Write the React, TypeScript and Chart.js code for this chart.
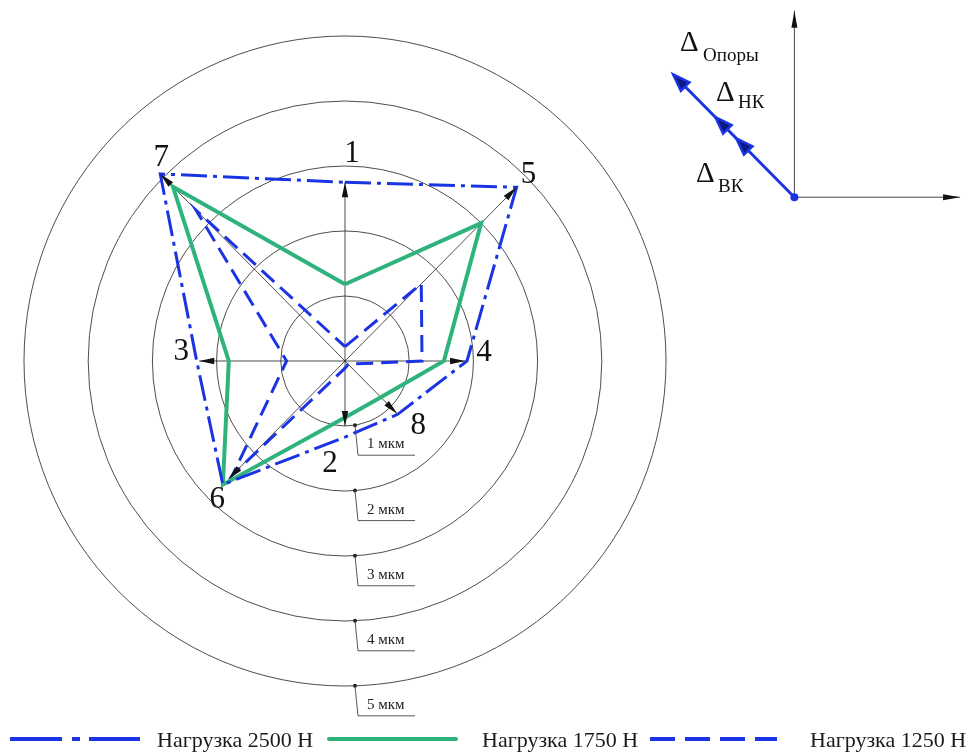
import React, { useEffect, useRef } from 'react';
import { Chart, registerables } from 'chart.js';

Chart.register(...registerables);

// Measurement directions, clockwise from the top
const directions = ['1', '5', '4', '8', '2', '6', '3', '7'];

// Radial deviation, мкм, in the same direction order
const load2500 = [2.75, 3.78, 1.9, 1.16, 1.17, 2.69, 2.31, 4.07];
const load1750 = [1.18, 3.0, 1.54, 0.79, 0.87, 2.69, 1.81, 3.79];
const load1250 = [0.22, 1.68, 1.2, 0.07, 0.11, 2.47, 0.91, 3.28];

// Length of the numbered direction arrows, мкм
const axisArrows = [2.75, 3.78, 1.87, 1.15, 1.0, 2.57, 2.27, 4.07];

// Reference rings
const ringValues = [1, 2, 3, 4, 5];
const ringLabels = ['1 мкм', '2 мкм', '3 мкм', '4 мкм', '5 мкм'];

const seriesNames = ['Нагрузка 2500 Н', 'Нагрузка 1750 Н', 'Нагрузка 1250 Н'];

// Vector diagram in the corner: components along one direction
const vectorNames = ['ВК', 'НК', 'Опоры'];
const vectorLengths = [1.28, 1.74, 2.67];

// Canvas geometry
const W = 975;
const H = 756;
const CX = 345;
const CY = 361;
const UX = 64.2;
const UY = 65;

const BLUE = '#1b34e3';
const GREEN = '#2fb37c';
const SERIF = '"Liberation Serif", "Times New Roman", serif';

const polar = (v: number, i: number) => {
  const a = (i * Math.PI) / 4;
  return { x: v * Math.sin(a), y: v * Math.cos(a) };
};

const closedPolygon = (vals: number[]) => {
  const pts = vals.map((v, i) => polar(v, i));
  return [...pts, pts[0]];
};

function arrowHead(
  ctx: CanvasRenderingContext2D,
  x1: number, y1: number, x2: number, y2: number,
  len: number, half: number
) {
  const a = Math.atan2(y2 - y1, x2 - x1);
  const bx = x2 - len * Math.cos(a);
  const by = y2 - len * Math.sin(a);
  ctx.beginPath();
  ctx.moveTo(x2, y2);
  ctx.lineTo(bx + half * Math.sin(a), by - half * Math.cos(a));
  ctx.lineTo(bx - half * Math.sin(a), by + half * Math.cos(a));
  ctx.closePath();
}

// Offsets of the direction numbers from their arrow tips
const labelOffsets: [number, number][] = [
  [7, -29], [12, -13], [19, -9], [21, 11], [-15, 37], [-11, 20], [-18, -10], [1, -17],
];

const diagramPlugin = {
  id: 'deviationDiagram',
  beforeDatasetsDraw(chart: any) {
    const { ctx } = chart;
    const sx = chart.scales.x;
    const sy = chart.scales.y;
    const px = (v: number) => sx.getPixelForValue(v);
    const py = (v: number) => sy.getPixelForValue(v);
    const ox = px(0);
    const oy = py(0);

    ctx.save();
    // rings
    ctx.strokeStyle = '#3a3a3a';
    ctx.lineWidth = 0.9;
    ringValues.forEach((r) => {
      ctx.beginPath();
      ctx.ellipse(ox, oy, px(r) - ox, oy - py(r), 0, 0, Math.PI * 2);
      ctx.stroke();
    });

    // direction axes: thin lines from the centre
    ctx.strokeStyle = '#222';
    ctx.lineWidth = 0.8;
    axisArrows.forEach((v, i) => {
      const p = polar(v, i);
      ctx.beginPath();
      ctx.moveTo(ox, oy);
      ctx.lineTo(px(p.x), py(p.y));
      ctx.stroke();
    });
    ctx.restore();
  },
  afterDatasetsDraw(chart: any) {
    const { ctx } = chart;
    const sx = chart.scales.x;
    const sy = chart.scales.y;
    const px = (v: number) => sx.getPixelForValue(v);
    const py = (v: number) => sy.getPixelForValue(v);
    const ox = px(0);
    const oy = py(0);

    ctx.save();
    // arrowheads and direction numbers
    ctx.fillStyle = '#111';
    ctx.font = `31px ${SERIF}`;
    ctx.textAlign = 'center';
    ctx.textBaseline = 'middle';
    axisArrows.forEach((v, i) => {
      const p = polar(v, i);
      const tx = px(p.x);
      const ty = py(p.y);
      arrowHead(ctx, ox, oy, tx, ty, 15, 3.2);
      ctx.fill();
      const [dx, dy] = labelOffsets[i];
      ctx.fillText(directions[i], tx + dx, ty + dy + 1);
    });

    // ring value callouts
    ringValues.forEach((r, i) => {
      const vx = 10 / UX;
      const vy = -Math.sqrt(r * r - vx * vx);
      const dx = px(vx);
      const dy = py(vy);
      ctx.fillStyle = '#222';
      ctx.beginPath();
      ctx.arc(dx, dy, 2, 0, Math.PI * 2);
      ctx.fill();
      ctx.strokeStyle = '#444';
      ctx.lineWidth = 0.9;
      ctx.beginPath();
      ctx.moveTo(dx, dy);
      ctx.lineTo(dx + 3, dy + 30);
      ctx.lineTo(dx + 60, dy + 30);
      ctx.stroke();
      ctx.font = `15px ${SERIF}`;
      ctx.textAlign = 'left';
      ctx.textBaseline = 'alphabetic';
      ctx.fillStyle = '#222';
      ctx.fillText(ringLabels[i], dx + 12, dy + 23);
    });

    // corner vector diagram
    const origin = { x: 7.0, y: 2.52 };
    const ix = px(origin.x);
    const iy = py(origin.y);
    ctx.strokeStyle = '#333';
    ctx.fillStyle = '#111';
    ctx.lineWidth = 0.9;
    const topY = py(origin.y + 2.87);
    const rightX = px(origin.x + 2.58);
    ctx.beginPath();
    ctx.moveTo(ix, iy);
    ctx.lineTo(ix, topY);
    ctx.moveTo(ix, iy);
    ctx.lineTo(rightX, iy);
    ctx.stroke();
    arrowHead(ctx, ix, iy, ix, topY, 17, 3);
    ctx.fill();
    arrowHead(ctx, ix, iy, rightX, iy, 17, 3);
    ctx.fill();

    const dir = { x: -Math.SQRT1_2, y: Math.SQRT1_2 };
    const tips = vectorLengths.map((l) => ({
      x: px(origin.x + dir.x * l),
      y: py(origin.y + dir.y * l),
    }));
    const far = tips[tips.length - 1];
    ctx.strokeStyle = BLUE;
    ctx.lineWidth = 3;
    ctx.beginPath();
    ctx.moveTo(ix, iy);
    ctx.lineTo(far.x, far.y);
    ctx.stroke();
    tips.forEach((t) => {
      arrowHead(ctx, ix, iy, t.x, t.y, 17, 6);
      ctx.fillStyle = '#0b1a7a';
      ctx.fill();
      ctx.lineWidth = 2.5;
      ctx.strokeStyle = BLUE;
      ctx.stroke();
    });
    ctx.fillStyle = BLUE;
    ctx.beginPath();
    ctx.arc(ix, iy, 4, 0, Math.PI * 2);
    ctx.fill();

    // Δ labels
    const deltaPos: [number, number, number, number][] = [
      [696, 182, 718, 192],
      [716, 101, 738, 108],
      [680, 51, 703, 61],
    ];
    ctx.fillStyle = '#111';
    ctx.textAlign = 'left';
    ctx.textBaseline = 'alphabetic';
    vectorNames.forEach((name, i) => {
      const [dxp, dyp, sxp, syp] = deltaPos[i];
      ctx.font = `29px ${SERIF}`;
      ctx.fillText('Δ', dxp, dyp);
      ctx.font = `19px ${SERIF}`;
      ctx.fillText(name, sxp, syp);
    });

    // legend
    const ly = 739;
    ctx.lineWidth = 4;
    ctx.strokeStyle = BLUE;
    ctx.lineCap = 'butt';
    ([[10, 62], [72, 80], [89, 140]] as [number, number][]).forEach(([a, b]) => {
      ctx.beginPath();
      ctx.moveTo(a, ly);
      ctx.lineTo(b, ly);
      ctx.stroke();
    });
    ctx.strokeStyle = GREEN;
    ctx.lineCap = 'round';
    ctx.beginPath();
    ctx.moveTo(329, ly);
    ctx.lineTo(456, ly);
    ctx.stroke();
    ctx.strokeStyle = BLUE;
    ctx.lineCap = 'butt';
    ctx.setLineDash([25, 10]);
    ctx.beginPath();
    ctx.moveTo(650, ly);
    ctx.lineTo(777, ly);
    ctx.stroke();
    ctx.setLineDash([]);

    ctx.fillStyle = '#1a1a1a';
    ctx.font = `22px ${SERIF}`;
    ctx.textBaseline = 'alphabetic';
    const textX = [157, 482, 810];
    seriesNames.forEach((s, i) => ctx.fillText(s, textX[i], 747));
    ctx.restore();
  },
};

export default function App() {
  const canvasRef = useRef<HTMLCanvasElement | null>(null);

  useEffect(() => {
    document.body.style.margin = '0';
    document.body.style.background = '#fff';
    const canvas = canvasRef.current;
    if (!canvas) return;
    const chart = new Chart(canvas, {
      type: 'scatter',
      data: {
        datasets: [
          {
            label: seriesNames[0],
            data: closedPolygon(load2500),
            showLine: true,
            borderColor: BLUE,
            borderWidth: 3,
            borderDash: [26, 6, 4, 6],
            pointRadius: 0,
            fill: false,
          },
          {
            label: seriesNames[1],
            data: closedPolygon(load1750),
            showLine: true,
            borderColor: GREEN,
            borderWidth: 4,
            pointRadius: 0,
            fill: false,
          },
          {
            label: seriesNames[2],
            data: closedPolygon(load1250),
            showLine: true,
            borderColor: BLUE,
            borderWidth: 3,
            borderDash: [17, 8],
            pointRadius: 0,
            fill: false,
          },
        ],
      },
      options: {
        responsive: false,
        animation: false,
        devicePixelRatio: 1,
        layout: { padding: 0 },
        plugins: { legend: { display: false }, tooltip: { enabled: false } },
        scales: {
          x: { type: 'linear', display: false, min: -CX / UX, max: (W - CX) / UX },
          y: { type: 'linear', display: false, min: -(H - CY) / UY, max: CY / UY },
        },
      },
      plugins: [diagramPlugin],
    });
    return () => chart.destroy();
  }, []);

  return (
    <div style={{ width: W, height: H, background: '#fff' }}>
      <canvas ref={canvasRef} width={W} height={H} />
    </div>
  );
}
